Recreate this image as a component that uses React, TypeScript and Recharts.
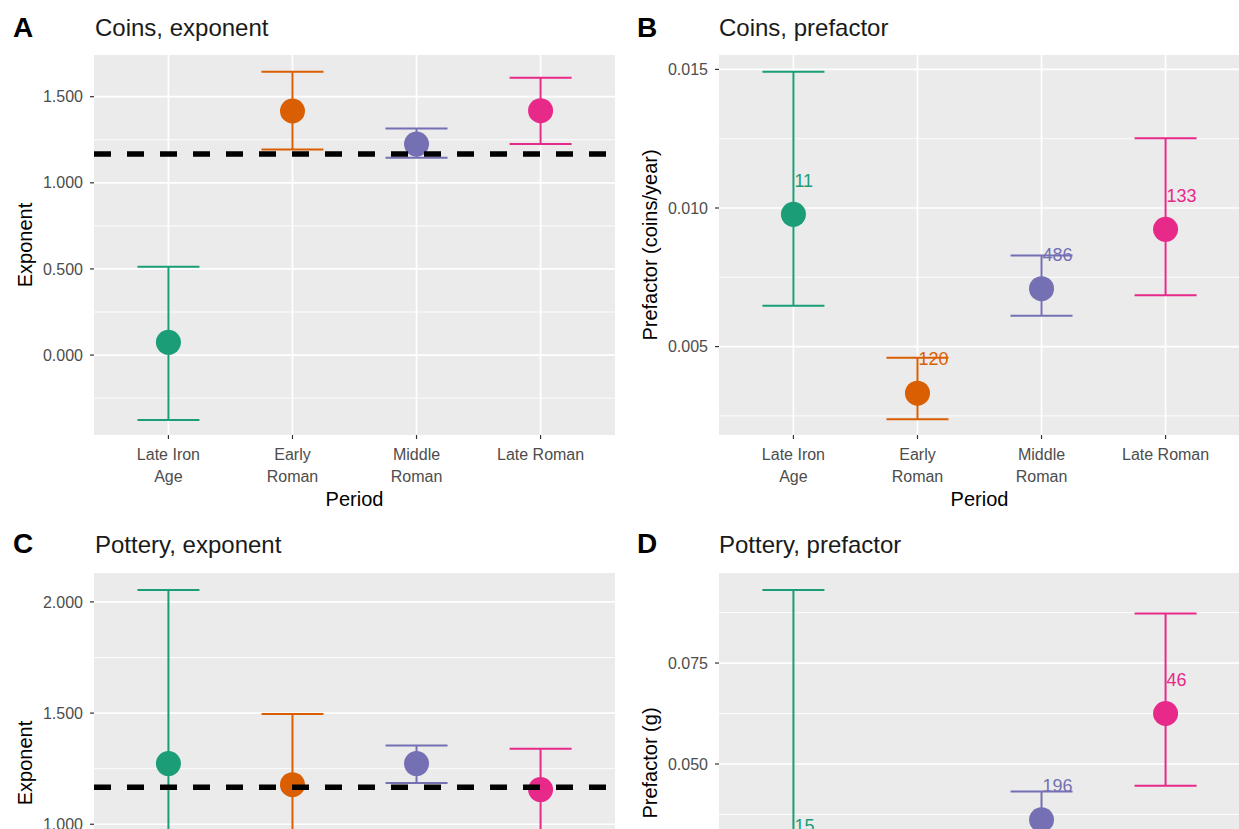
import React from 'react';
import { ScatterChart, Scatter, XAxis, YAxis, CartesianGrid, ErrorBar } from 'recharts';

const periods = ['Late Iron Age', 'Early Roman', 'Middle Roman', 'Late Roman'];
const periodTickLines = [['Late Iron', 'Age'], ['Early', 'Roman'], ['Middle', 'Roman'], ['Late Roman']];
const periodColors = ['#1B9E77', '#D95F02', '#7570B3', '#E7298A'];

// A: coins, exponent
const coinsExpEst = [0.074, 1.417, 1.225, 1.419];
const coinsExpLo = [-0.377, 1.194, 1.146, 1.225];
const coinsExpHi = [0.513, 1.645, 1.316, 1.61];
const coinsExpTicks = [0, 0.5, 1.0, 1.5];
const coinsExpMinor = [-0.25, 0.25, 0.75, 1.25];

// B: coins, prefactor
const coinsPreEst = [0.00977, 0.00332, 0.00709, 0.00923];
const coinsPreLo = [0.00647, 0.00238, 0.00611, 0.00685];
const coinsPreHi = [0.01492, 0.0046, 0.00829, 0.01252];
const coinsCounts = [11, 120, 486, 133];
const coinsPreTicks = [0.005, 0.01, 0.015];
const coinsPreMinor = [0.0025, 0.0075, 0.0125];

// C: pottery, exponent (lower part of the panel is outside the picture)
const potExpEst = [1.273, 1.178, 1.273, 1.156];
const potExpLo = [0.5, 0.86, 1.186, 0.97];
const potExpHi = [2.054, 1.496, 1.354, 1.34];
const potExpTicks = [1.0, 1.5, 2.0];
const potExpMinor = [0.75, 1.25, 1.75];

// D: pottery, prefactor
const potPreEst = [0.0263, 0.019, 0.0362, 0.0625];
const potPreLo = [0.0076, 0.012, 0.03, 0.0446];
const potPreHi = [0.0931, 0.028, 0.0432, 0.0873];
const potCounts = [15, null, 196, 46];
const potPreTicks = [0.05, 0.075];
const potPreMinor = [0.0125, 0.0375, 0.0625, 0.0875];

const expectedExponent = 1.167;
const xDomain = [0.4, 4.6];

const FONT = '"Liberation Sans", Arial, sans-serif';

const PeriodTick = (props: any) => {
  const { x, y, payload } = props;
  const lines = periodTickLines[Math.round(payload.value) - 1] || [];
  return (
    <text x={x} y={y} textAnchor="middle" fill="#4D4D4D" fontSize={16}>
      {lines.map((l, i) => (
        <tspan key={i} x={x} y={y + 19 + i * 22}>{l}</tspan>
      ))}
    </text>
  );
};

const Panel = ({ left, top, width, marginLeft, domain, ticks, minor, est, lo, hi, counts, refY, showX }: any) => {
  const rows = periods.map((p, i) => ({
    x: i + 1,
    y: est[i],
    err: [est[i] - lo[i], hi[i] - est[i]],
    n: counts ? counts[i] : null,
  }));
  const refRows = refY != null ? xDomain.map(x => ({ x, y: refY })) : [];
  return (
    <div style={{ position: 'absolute', left, top }}>
      <ScatterChart width={width} height={520} margin={{ top: 55, right: width - marginLeft - 80 - 521, bottom: 25, left: marginLeft }}>
        <CartesianGrid fill="#EBEBEB" stroke="#FFFFFF" strokeWidth={0.9} vertical={false} horizontalValues={minor} />
        <CartesianGrid stroke="#FFFFFF" strokeWidth={1.7} horizontalValues={ticks} verticalValues={[1, 2, 3, 4]} />
        <XAxis
          type="number"
          dataKey="x"
          domain={xDomain}
          ticks={[1, 2, 3, 4]}
          interval={0}
          allowDataOverflow
          axisLine={false}
          tickLine={showX ? { stroke: '#333333', strokeWidth: 1.2 } : false}
          tickSize={4}
          height={60}
          tick={showX ? <PeriodTick /> : false}
        />
        <YAxis
          type="number"
          dataKey="y"
          domain={domain}
          ticks={ticks}
          interval={0}
          allowDataOverflow
          width={80}
          axisLine={false}
          tickLine={{ stroke: '#333333', strokeWidth: 1.2 }}
          tickSize={4}
          tickMargin={7}
          tick={{ fill: '#4D4D4D', fontSize: 16 }}
          tickFormatter={(v: number) => v.toFixed(3)}
        />
        {rows.map((r, i) => (
          <Scatter
            key={periods[i]}
            name={periods[i]}
            data={[r]}
            isAnimationActive={false}
            shape={(s: any) => (
              <g>
                <circle cx={s.cx} cy={s.cy} r={12.5} fill={periodColors[i]} />
                {s.payload && s.payload.n != null && (
                  <text x={s.cx + 1} y={s.cy - 34} dy="0.35em" fill={periodColors[i]} fontSize={18}>
                    {s.payload.n}
                  </text>
                )}
              </g>
            )}
          >
            <ErrorBar dataKey="err" direction="y" width={31} stroke={periodColors[i]} strokeWidth={2} />
          </Scatter>
        ))}
        {refY != null && (
          <Scatter
            name="expected"
            data={refRows}
            isAnimationActive={false}
            line={{ stroke: '#000000', strokeWidth: 5.5, strokeDasharray: '17 16' }}
            shape={() => <g />}
          />
        )}
      </ScatterChart>
    </div>
  );
};

const App = () => {
  return (
    <div style={{ position: 'fixed', left: 0, top: 0, width: 1239, height: 829, overflow: 'hidden', background: '#FFFFFF', fontFamily: FONT }}>
      <Panel left={0} top={0} width={620} marginLeft={14} domain={[-0.464, 1.742]} ticks={coinsExpTicks} minor={coinsExpMinor}
        est={coinsExpEst} lo={coinsExpLo} hi={coinsExpHi} refY={expectedExponent} showX />
      <Panel left={620} top={0} width={621} marginLeft={19} domain={[0.00181, 0.01552]} ticks={coinsPreTicks} minor={coinsPreMinor}
        est={coinsPreEst} lo={coinsPreLo} hi={coinsPreHi} counts={coinsCounts} showX />
      <Panel left={0} top={518} width={620} marginLeft={14} domain={[0.421, 2.13]} ticks={potExpTicks} minor={potExpMinor}
        est={potExpEst} lo={potExpLo} hi={potExpHi} refY={expectedExponent} />
      <Panel left={620} top={518} width={621} marginLeft={19} domain={[0.0032, 0.0973]} ticks={potPreTicks} minor={potPreMinor}
        est={potPreEst} lo={potPreLo} hi={potPreHi} counts={potCounts} />
      <svg width={1239} height={829} style={{ position: 'absolute', left: 0, top: 0, pointerEvents: 'none' }}>
        <g fontFamily={FONT}>
          <text x={13} y={37} fontSize={28} fontWeight="bold" fill="#000">A</text>
          <text x={95} y={36} fontSize={24} fill="#1A1A1A">Coins, exponent</text>
          <text x={637} y={37} fontSize={28} fontWeight="bold" fill="#000">B</text>
          <text x={719} y={36} fontSize={24} fill="#1A1A1A">Coins, prefactor</text>
          <text x={13} y={553} fontSize={28} fontWeight="bold" fill="#000">C</text>
          <text x={95} y={553} fontSize={24} fill="#1A1A1A">Pottery, exponent</text>
          <text x={637} y={553} fontSize={28} fontWeight="bold" fill="#000">D</text>
          <text x={719} y={553} fontSize={24} fill="#1A1A1A">Pottery, prefactor</text>

          <text x={354.5} y={506} fontSize={20} textAnchor="middle" fill="#000">Period</text>
          <text x={979.5} y={506} fontSize={20} textAnchor="middle" fill="#000">Period</text>

          <text transform="translate(25,245) rotate(-90)" fontSize={20} textAnchor="middle" dy="0.35em" fill="#000">Exponent</text>
          <text transform="translate(650,245) rotate(-90)" fontSize={20} textAnchor="middle" dy="0.35em" fill="#000">Prefactor (coins/year)</text>
          <text transform="translate(25,763) rotate(-90)" fontSize={20} textAnchor="middle" dy="0.35em" fill="#000">Exponent</text>
          <text transform="translate(650,763) rotate(-90)" fontSize={20} textAnchor="middle" dy="0.35em" fill="#000">Prefactor (g)</text>
        </g>
      </svg>
    </div>
  );
};

export default App;
